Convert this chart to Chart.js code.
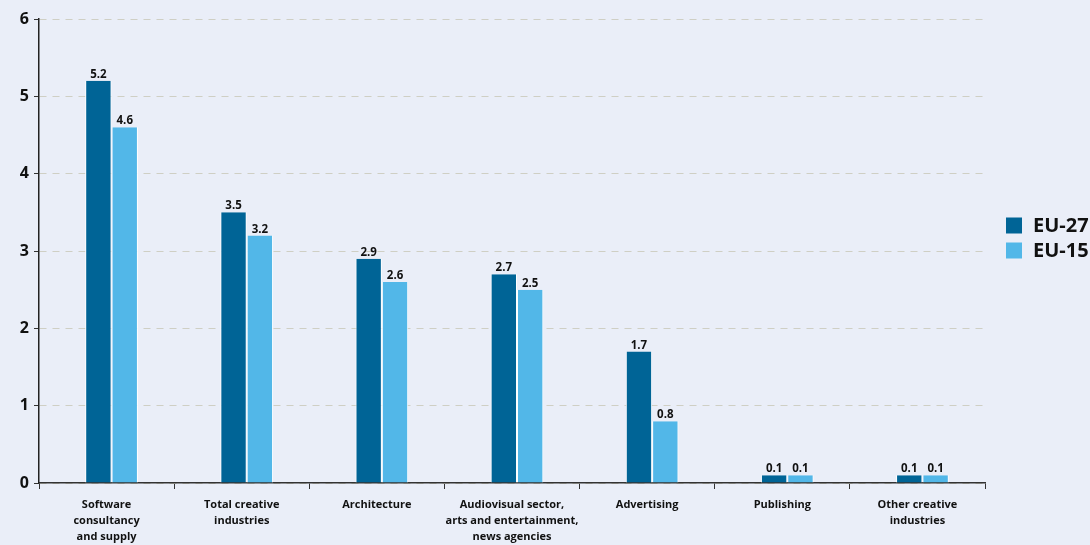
<!DOCTYPE html>
<html>
<head>
<meta charset="utf-8">
<script src="https://cdn.jsdelivr.net/npm/chart.js@4/dist/chart.umd.min.js"></script>
<style>
  html, body { margin: 0; padding: 0; background: #eaeef8; }
  canvas { display: block; }
</style>
</head>
<body>
<canvas id="c" width="1090" height="545"></canvas>
<script>
// Sector categories (multi-line labels)
const categories = [
  ['Software', 'consultancy', 'and supply'],
  ['Total creative', 'industries'],
  ['Architecture'],
  ['Audiovisual sector,', 'arts and entertainment,', 'news agencies'],
  ['Advertising'],
  ['Publishing'],
  ['Other creative', 'industries']
];
const seriesNames = ['EU-27', 'EU-15'];
const eu27 = [5.2, 3.5, 2.9, 2.7, 1.7, 0.1, 0.1];
const eu15 = [4.6, 3.2, 2.6, 2.5, 0.8, 0.1, 0.1];
const yTicks = [0, 1, 2, 3, 4, 5, 6];

const FONT = '"Open Sans", "Liberation Sans", sans-serif';
const BAR_SHIFT = 5; // bar pairs sit a little right of each category centre

// Nudge the bar groups to the right of the category centres
const barNudge = {
  id: 'barNudge',
  beforeDatasetsDraw(chart) { chart.ctx.save(); chart.ctx.translate(BAR_SHIFT, 0); },
  afterDatasetsDraw(chart) { chart.ctx.restore(); }
};

// Value labels above each bar
const valueLabels = {
  id: 'valueLabels',
  afterDatasetsDraw(chart) {
    const ctx = chart.ctx;
    ctx.save();
    ctx.font = 'bold 11.5px ' + FONT;
    ctx.fillStyle = '#111';
    ctx.textAlign = 'center';
    ctx.textBaseline = 'alphabetic';
    chart.data.datasets.forEach((ds, i) => {
      chart.getDatasetMeta(i).data.forEach((bar, j) => {
        ctx.fillText(ds.data[j].toFixed(1), bar.x + BAR_SHIFT, bar.y - 3);
      });
    });
    ctx.restore();
  }
};

// Legend to the right of the plot, slightly above its vertical middle
const sideLegend = {
  id: 'sideLegend',
  afterDraw(chart) {
    const ctx = chart.ctx;
    const area = chart.chartArea;
    const x0 = area.right + 21;
    const step = 25;
    const yMid = (area.top + area.bottom) / 2 - 13;
    ctx.save();
    ctx.font = 'bold 20px ' + FONT;
    ctx.textBaseline = 'middle';
    ctx.textAlign = 'left';
    chart.data.datasets.forEach((ds, i) => {
      const cy = yMid + (i - (chart.data.datasets.length - 1) / 2) * step;
      ctx.fillStyle = ds.backgroundColor;
      ctx.fillRect(x0, cy - 8, 16, 16);
      ctx.fillStyle = '#111';
      ctx.fillText(ds.label, x0 + 27, cy + 1);
    });
    ctx.restore();
  }
};

new Chart(document.getElementById('c'), {
  type: 'bar',
  data: {
    labels: categories,
    datasets: [
      { label: seriesNames[0], data: eu27, backgroundColor: '#006496', borderColor: '#ffffff',
        borderWidth: { left: 1, right: 1, top: 0, bottom: 0 }, borderSkipped: false },
      { label: seriesNames[1], data: eu15, backgroundColor: '#52b7e8', borderColor: '#ffffff',
        borderWidth: { left: 1, right: 1, top: 0, bottom: 0 }, borderSkipped: false }
    ]
  },
  options: {
    responsive: false,
    animation: false,
    layout: { padding: { top: 19, right: 105, left: 15, bottom: 0 } },
    datasets: { bar: { categoryPercentage: 0.39, barPercentage: 1.0 } },
    plugins: {
      legend: { display: false },
      tooltip: { enabled: false }
    },
    scales: {
      x: {
        afterFit(scale) { scale.height = 62; },
        grid: { display: true, drawOnChartArea: false, drawTicks: true, tickLength: 6,
                tickColor: '#333', offset: true },
        border: { display: true, color: '#333', width: 1.5 },
        ticks: { color: '#111', font: { family: FONT, size: 11, weight: 'bold', lineHeight: 1.45 },
                 padding: 8, maxRotation: 0, autoSkip: false }
      },
      y: {
        min: 0, max: 6,
        afterBuildTicks(scale) { scale.ticks = yTicks.map(v => ({ value: v })); },
        afterFit(scale) { scale.width = 24; },
        grid: { color: '#cfcfc4', lineWidth: 1, tickLength: 5, tickColor: '#333' },
        border: { display: true, color: '#222', width: 1.5, dash: [7, 6] },
        ticks: { color: '#111', font: { family: FONT, size: 16, weight: 'bold' }, padding: 5 }
      }
    }
  },
  plugins: [barNudge, valueLabels, sideLegend]
});
</script>
</body>
</html>
